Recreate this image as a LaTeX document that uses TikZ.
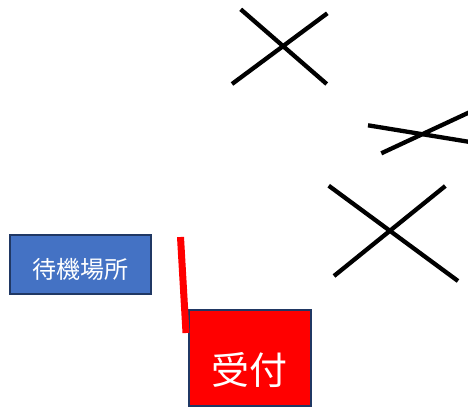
\documentclass[tikz,border=0pt]{standalone}
\usepackage{fontspec}
\newfontfamily\jpfont{Noto Sans CJK JP}
\definecolor{boxblue}{HTML}{4472C4}
\definecolor{boxedge}{HTML}{203864}
\definecolor{pptred}{HTML}{FF0000}
\begin{document}
\begin{tikzpicture}[x=1pt,y=-1pt,
  cross/.style={line width=4.3pt,black},
  box/.style={draw=boxedge,line width=2pt,inner sep=0pt},
  lbl/.style={text=white,inner sep=0pt,font=\jpfont}]
\useasboundingbox (0,0) rectangle (468,407);
% crosses
\coordinate (c1a) at (240.7,9.3);  \coordinate (c1b) at (326.7,84);
\coordinate (c1c) at (232,84);     \coordinate (c1d) at (327.3,13.3);
\draw[cross] (c1a) -- (c1b);
\draw[cross] (c1c) -- (c1d);
\coordinate (c2a) at (368,125.3);  \coordinate (c2b) at (470,142);
\coordinate (c2c) at (381.3,153.3);\coordinate (c2d) at (470,112);
\draw[cross] (c2a) -- (c2b);
\draw[cross] (c2c) -- (c2d);
\coordinate (c3a) at (328.7,185.7);\coordinate (c3b) at (458,281);
\coordinate (c3c) at (445.3,186);  \coordinate (c3d) at (334,276);
\draw[cross] (c3a) -- (c3b);
\draw[cross] (c3c) -- (c3d);
% boxes
\path[box,fill=boxblue] (10,234.5) rectangle (150.5,293.5) coordinate (waitbr);
\node[lbl,font=\jpfont\fontsize{24}{26}\selectfont] (wait) at (80,269.5) {待機場所};
\path[box,fill=pptred] (188.5,310) rectangle (311,406) coordinate (recbr);
\node[lbl,font=\jpfont\fontsize{38}{40}\selectfont] (rec) at (249.5,370) {受付};
% red line
\coordinate (r1) at (180.5,237);
\coordinate (r2) at (186,333);
\draw[pptred,line width=7pt] (r1) -- (r2);
\end{tikzpicture}
\end{document}
